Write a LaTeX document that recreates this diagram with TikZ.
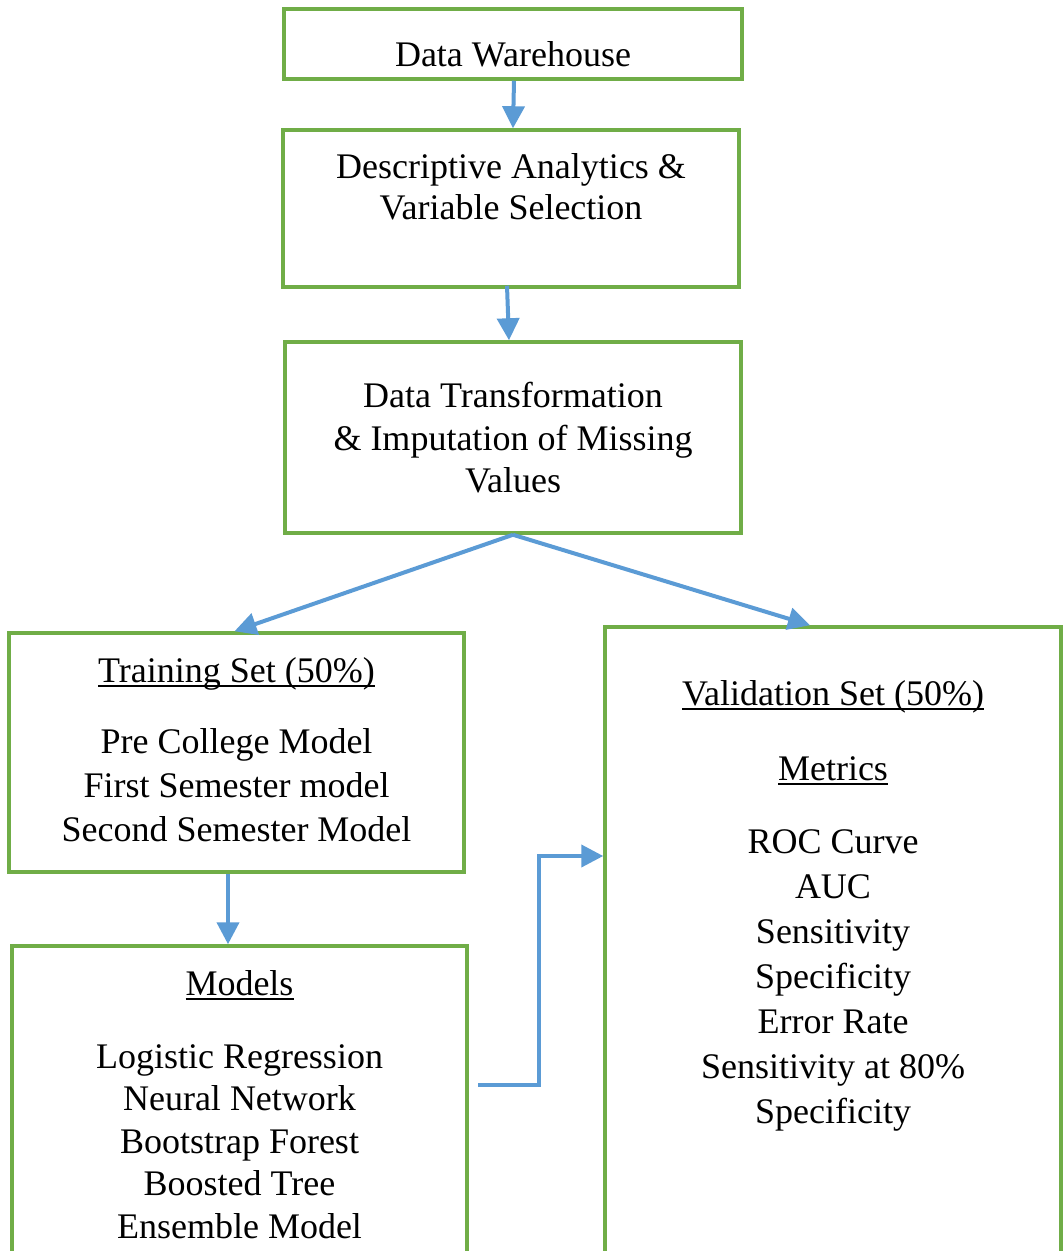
\documentclass[tikz,border=0pt]{standalone}
\usepackage{fontspec}
\setmainfont{Liberation Serif}
\usetikzlibrary{arrows.meta}

\definecolor{boxgreen}{HTML}{70AD47}
\definecolor{arrowblue}{HTML}{5B9BD5}

% underlined heading with a rule just under the baseline
\newcommand\undl[1]{\setbox0\hbox{#1}\rlap{\rule[-5pt]{\wd0}{2pt}}\box0}

\tikzset{
  box/.style={draw=boxgreen, line width=3.5pt, fill=white, inner sep=0pt, rectangle},
  txt/.style={inner sep=0pt, anchor=base, font=\fontsize{36}{43}\selectfont},
  arr/.style={draw=arrowblue, line width=4pt, -{Triangle[width=22pt,length=22pt]}},
}

\begin{document}
\begin{tikzpicture}[x=1pt, y=-1pt]
  \useasboundingbox (0,0) rectangle (1063,1251);
  \clip (0,0) rectangle (1063,1251);
  \fill[white] (0,0) rectangle (1063,1251);

  % boxes
  \node[box, minimum width=458pt, minimum height=70pt]  (dw)  at (513,44) {};
  \node[box, minimum width=456pt, minimum height=157pt] (da)  at (511,208.5) {};
  \node[box, minimum width=456pt, minimum height=191pt] (dt)  at (513,437.5) {};
  \node[box, minimum width=455pt, minimum height=239pt] (tr)  at (236.5,752.5) {};
  \node[box, minimum width=456pt, minimum height=663pt] (val) at (833,958.5) {};
  \node[box, minimum width=455pt, minimum height=344pt] (mod) at (239.5,1118) {};

  % texts
  \node[txt] (dwt) at (513,66) {Data Warehouse};

  \node[txt] (da1) at (511,178) {Descriptive Analytics \&};
  \node[txt] (da2) at (511,219) {Variable Selection};

  \node[txt] (dt1) at (513,407) {Data Transformation};
  \node[txt] (dt2) at (513,450) {\& Imputation of Missing};
  \node[txt] (dt3) at (513,492) {Values};

  \node[txt] (trh) at (236.5,682) {\undl{Training Set (50\%)}};
  \foreach \t [count=\i] in {Pre College Model, First Semester model, Second Semester Model}
    \node[txt] (tr\i) at (236.5,{753+(\i-1)*44}) {\t};

  \node[txt] (valh) at (833,705) {\undl{Validation Set (50\%)}};
  \node[txt] (meth) at (833,780) {\undl{Metrics}};
  \foreach \t [count=\i] in {ROC Curve, AUC, Sensitivity, Specificity, Error Rate, Sensitivity at 80\%, Specificity}
    \node[txt] (met\i) at (833,{853+(\i-1)*45}) {\t};

  \node[txt] (modh) at (239.5,995) {\undl{Models}};
  \foreach \t [count=\i] in {Logistic Regression, Neural Network, Bootstrap Forest, Boosted Tree, Ensemble Model}
    \node[txt] (mod\i) at (239.5,{1068+(\i-1)*42.5}) {\t};

  % connectors
  \draw[arr] ([xshift=1pt]dw.south) -- ([xshift=2pt]da.north);
  \draw[arr] ([xshift=-4pt,yshift=3pt]da.south) -- ([xshift=-4pt]dt.north);
  \coordinate (split) at (dt.south);
  \draw[arr] (split) -- ([xshift=-2pt]tr.north);
  \draw[arr] (split) -- ([xshift=-23pt]val.north);
  \draw[arr] ([xshift=-8.5pt]tr.south) -- ([xshift=-11.5pt]mod.north);
  \coordinate (elb) at (478,1085);
  \coordinate (valin) at (val.west |- 0,856);
  \draw[arr] (elb) -- ++(61,0) |- (valin);
\end{tikzpicture}
\end{document}
